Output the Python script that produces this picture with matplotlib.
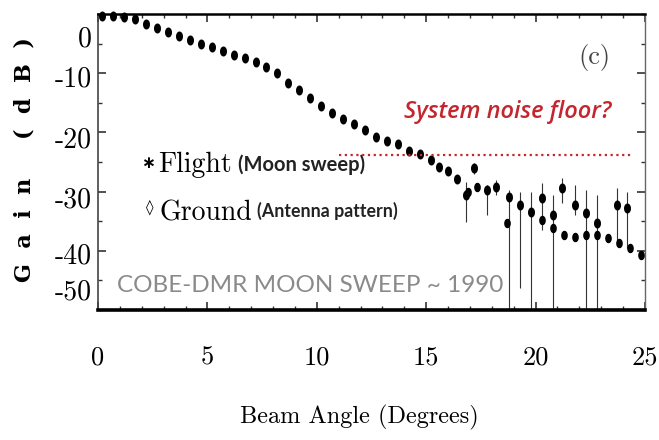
import numpy as np
import matplotlib.pyplot as plt
from matplotlib.path import Path
from matplotlib.ticker import MultipleLocator
import matplotlib.transforms as mtransforms

plt.rcParams['font.family'] = ['cmr10', 'DejaVu Serif']
plt.rcParams['axes.unicode_minus'] = False

# smooth part of the sweep (flight + ground lie on top of each other)
sweep_x = [0.2, 0.7, 1.2, 1.7, 2.2, 2.7, 3.2, 3.7, 4.2, 4.7, 5.2, 5.7, 6.2, 6.7,
           7.2, 7.7, 8.2, 8.7, 9.2, 9.7, 10.2, 10.7, 11.2, 11.7, 12.2, 12.7,
           13.2, 13.7, 14.2, 14.7, 15.2, 15.6, 16.0, 16.4]
sweep_db = [-0.4, -0.4, -0.5, -0.8, -1.7, -2.3, -3.1, -3.8, -4.4, -5.0, -5.6,
            -6.2, -6.9, -7.5, -8.1, -8.9, -10.0, -11.6, -12.8, -14.2, -15.6,
            -16.8, -17.8, -18.6, -19.6, -20.8, -21.5, -22.0, -23.1, -23.7,
            -24.6, -25.9, -26.6, -27.8]

# flight (moon sweep) points past the main lobe, with error bars
flight_x = [16.8, 17.2, 17.8, 18.2, 18.8, 19.3, 19.8, 20.3, 20.8, 21.2, 21.8,
            22.3, 22.8, 23.7, 24.2]
flight_db = [-30.6, -26.0, -29.7, -29.2, -30.9, -32.3, -33.4, -31.1, -34.0,
             -29.4, -32.3, -33.6, -35.3, -32.3, -32.8]
flight_lo = [-35.1, -27.0, -34.0, -30.5, -50.0, -46.3, -50.0, -36.5, -50.0,
             -31.9, -34.0, -50.0, -50.0, -38.7, -39.5]
flight_hi = [-28.4, -25.2, -28.9, -28.0, -29.7, -30.1, -30.1, -28.5, -30.6,
             -27.7, -28.9, -29.7, -30.6, -29.4, -30.1]

# ground (antenna pattern) points
ground_x = [16.9, 17.3, 18.7, 20.3, 20.8, 21.3, 21.8, 22.3, 22.8, 23.3, 23.8,
            24.3, 24.8]
ground_db = [-30.0, -29.3, -35.3, -34.8, -36.1, -37.3, -37.6, -37.3, -37.3,
             -37.8, -38.6, -39.5, -40.7]

noise_floor_db = -23.9
noise_x = (11.0, 24.4)

ytick_labels = ['0', '-10', '-20', '-30', '-40', '-50']
ytick_label_pos = [-4.2, -11.1, -21.3, -31.4, -41.0, -47.1]

red = '#c4262e'

# small upright ellipse for the data points
t = np.linspace(0, 2 * np.pi, 30)
dot = Path(np.c_[0.65 * np.cos(t), np.sin(t)])

fig = plt.figure(figsize=(6.59, 4.40), dpi=100)
ax = fig.add_axes([98 / 659, 1 - 310 / 440, 547 / 659, 296 / 440])

ax.plot(sweep_x, sweep_db, ls='none', marker=dot, ms=6.2, color='k',
        clip_on=False, zorder=3)
ax.errorbar(flight_x, flight_db,
            yerr=[np.array(flight_db) - np.array(flight_lo),
                  np.array(flight_hi) - np.array(flight_db)],
            fmt='none', ecolor='#333333', elinewidth=0.8, zorder=2)
ax.plot(flight_x, flight_db, ls='none', marker=dot, ms=6.2, color='k', zorder=3)
ax.plot(ground_x, ground_db, ls='none', marker=dot, ms=5.8, color='k', zorder=3)

ax.hlines(noise_floor_db, noise_x[0], noise_x[1], colors=red,
          linestyles=(0, (1, 1.6)), linewidth=1.6, zorder=4)

ax.set_xlim(0, 25)
ax.set_ylim(-50, 0)
ax.xaxis.set_major_locator(MultipleLocator(5))
ax.xaxis.set_minor_locator(MultipleLocator(1))
ax.set_yticks([-10, -20, -30, -40])
ax.yaxis.set_minor_locator(MultipleLocator(5))
ax.tick_params(which='both', direction='in', top=True, right=True,
               color='#333333')
ax.tick_params(which='major', length=6, width=1.2)
ax.tick_params(which='minor', length=3, width=1.0)
ax.tick_params(axis='x', which='major', pad=26, labelsize=19)
ax.set_yticklabels([])

for side, lw in [('bottom', 2.6), ('top', 1.8), ('left', 1.2), ('right', 1.0)]:
    ax.spines[side].set_linewidth(lw)
ax.spines['left'].set_color('#444444')
ax.spines['right'].set_color('#666666')

# y tick labels sit a bit off their ticks, as in the scanned figure
ytr = mtransforms.blended_transform_factory(ax.transAxes, ax.transData)
for lab, pos in zip(ytick_labels, ytick_label_pos):
    ax.text(-0.011, pos, lab, transform=ytr, ha='right', va='center',
            fontsize=20, clip_on=False)

fig.text(25 / 659, 1 - 160 / 440, 'G  a  i  n     (  d  B  )', rotation=90,
         ha='center', va='center', fontsize=16, fontweight='bold',
         family='DejaVu Serif')
fig.text(359 / 659, 1 - 417 / 440, 'Beam Angle (Degrees)', ha='center',
         va='center', fontsize=17.5)

ax.text(22.7, -7.3, '(c)', ha='center', va='center', fontsize=19,
        color='#444444')
ax.text(14.0, -16.6, 'System noise floor?', ha='left', va='center',
        fontsize=17, fontstyle='italic', fontweight='semibold',
        family='Open Sans', color=red)

ax.text(2.3, -25.2, '\u2217', ha='center', va='center', fontsize=12,
        fontweight='bold', family='DejaVu Sans')
ax.text(2.75, -26.7, 'Flight', ha='left', va='baseline', fontsize=20)
ax.text(6.4, -26.5, '(Moon sweep)', ha='left', va='baseline', fontsize=14.5,
        fontweight='bold', family='Lato', color='#222222')
ax.text(2.35, -32.6, '\u25ca', ha='center', va='center', fontsize=11,
        family='DejaVu Sans')
ax.text(2.83, -34.8, 'Ground', ha='left', va='baseline', fontsize=20)
ax.text(7.27, -34.3, '(Antenna pattern)', ha='left', va='baseline',
        fontsize=12.8, fontweight='bold', family='Lato', color='#222222')

ax.text(0.87, -45.8, 'COBE-DMR MOON SWEEP ~ 1990', ha='left', va='center',
        fontsize=17.5, family='Lato', color='#8a8a8a')

fig.savefig('out.png', dpi=100, facecolor='white')
